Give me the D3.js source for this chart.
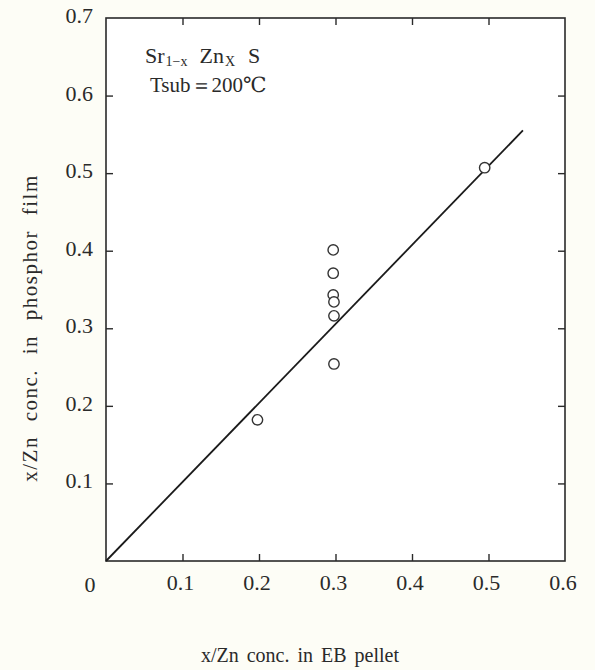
<!DOCTYPE html>
<html>
<head>
<meta charset="utf-8">
<script src="https://cdn.jsdelivr.net/npm/d3@7"></script>
<style>
  html, body { margin: 0; padding: 0; background: #fdfdf6; }
  svg { display: block; }
  text { font-family: "Liberation Serif", "DejaVu Serif", serif; fill: #2a2a2a; }
</style>
</head>
<body>
<svg id="chart" width="595" height="670"></svg>
<script>
// Zn fraction in the EB pellet (x) vs. measured Zn fraction in the deposited film (y)
const pelletConc = [0.198, 0.297, 0.297, 0.297, 0.298, 0.298, 0.298, 0.495];
const filmConc   = [0.182, 0.401, 0.371, 0.343, 0.334, 0.316, 0.254, 0.507];

// Fitted proportional line, drawn from its two end points
const fitX = [0, 0.545];
const fitY = [0, 0.555];

const xTicks = [0.1, 0.2, 0.3, 0.4, 0.5, 0.6];
const yTicks = [0.1, 0.2, 0.3, 0.4, 0.5, 0.6, 0.7];

const svg = d3.select("#chart");
const plotL = 106, plotR = 565, plotT = 18, plotB = 561;

const x = d3.scaleLinear().domain([0, 0.6]).range([plotL, plotR]);
const y = d3.scaleLinear().domain([0, 0.7]).range([plotB, plotT]);

const ink = "#2a2a2a";

// Frame
svg.append("rect")
  .attr("x", plotL).attr("y", plotT)
  .attr("width", plotR - plotL).attr("height", plotB - plotT)
  .attr("fill", "#ffffff").attr("stroke", ink).attr("stroke-width", 1.6);

// Inward ticks on all four sides
const tickLen = 7;
const innerX = xTicks.filter(d => d < 0.6);
const innerY = yTicks.filter(d => d < 0.7);

const bottomAxis = d3.axisBottom(x).tickValues(innerX).tickSize(-tickLen).tickFormat("");
const topAxis = d3.axisTop(x).tickValues(innerX).tickSize(-tickLen).tickFormat("");
const leftAxis = d3.axisLeft(y).tickValues(innerY).tickSize(-tickLen).tickFormat("");
const rightAxis = d3.axisRight(y).tickValues(innerY).tickSize(-tickLen).tickFormat("");

[[bottomAxis, `translate(0,${plotB})`], [topAxis, `translate(0,${plotT})`],
 [leftAxis, `translate(${plotL},0)`], [rightAxis, `translate(${plotR},0)`]].forEach(([ax, tr]) => {
  const g = svg.append("g").attr("transform", tr).call(ax);
  g.select(".domain").remove();
  g.selectAll("line").attr("stroke", ink).attr("stroke-width", 1.4);
});

// Tick labels
svg.append("g").selectAll("text").data(xTicks).join("text")
  .attr("x", d => x(d) - 2).attr("y", 590)
  .attr("text-anchor", "middle").attr("font-size", 22)
  .text(d => d.toFixed(1));
svg.append("text").attr("x", 90).attr("y", 592)
  .attr("text-anchor", "middle").attr("font-size", 22).text("0");

svg.append("g").selectAll("text").data(yTicks).join("text")
  .attr("x", 93).attr("y", d => y(d) + 5)
  .attr("text-anchor", "end").attr("font-size", 22)
  .text(d => d.toFixed(1));

// Fit line
const line = d3.line().x(d => x(d[0])).y(d => y(d[1]));
svg.append("path")
  .datum(fitX.map((d, i) => [d, fitY[i]]))
  .attr("d", line)
  .attr("fill", "none").attr("stroke", "#1a1a1a").attr("stroke-width", 1.8);

// Measured points
svg.append("g").selectAll("circle").data(pelletConc).join("circle")
  .attr("cx", d => x(d)).attr("cy", (d, i) => y(filmConc[i]))
  .attr("r", 5.2)
  .attr("fill", "#ffffff").attr("stroke", "#333").attr("stroke-width", 1.4);

// Composition / substrate temperature annotation
const ann = svg.append("text").attr("x", 145).attr("y", 63).attr("font-size", 22);
ann.append("tspan").text("Sr");
ann.append("tspan").attr("font-size", 14).attr("dy", 3).attr("dx", 1).text("1\u2212x");
ann.append("tspan").attr("dy", -3).attr("dx", 12).text("Zn");
ann.append("tspan").attr("font-size", 14).attr("dy", 3).attr("dx", 1).text("X");
ann.append("tspan").attr("dy", -3).attr("dx", 13).text("S");

svg.append("text").attr("x", 150).attr("y", 92).attr("font-size", 21)
  .text("Tsub\uFF1D200\u2103");

// Axis titles
svg.append("text")
  .attr("transform", "translate(37,328) rotate(-90)")
  .attr("text-anchor", "middle").attr("font-size", 21)
  .attr("letter-spacing", 1.5).attr("word-spacing", 8)
  .text("x/Zn conc. in phosphor film");

svg.append("text")
  .attr("x", 300).attr("y", 662)
  .attr("text-anchor", "middle").attr("font-size", 20)
  .attr("word-spacing", 3)
  .text("x/Zn conc. in EB pellet");
</script>
</body>
</html>
